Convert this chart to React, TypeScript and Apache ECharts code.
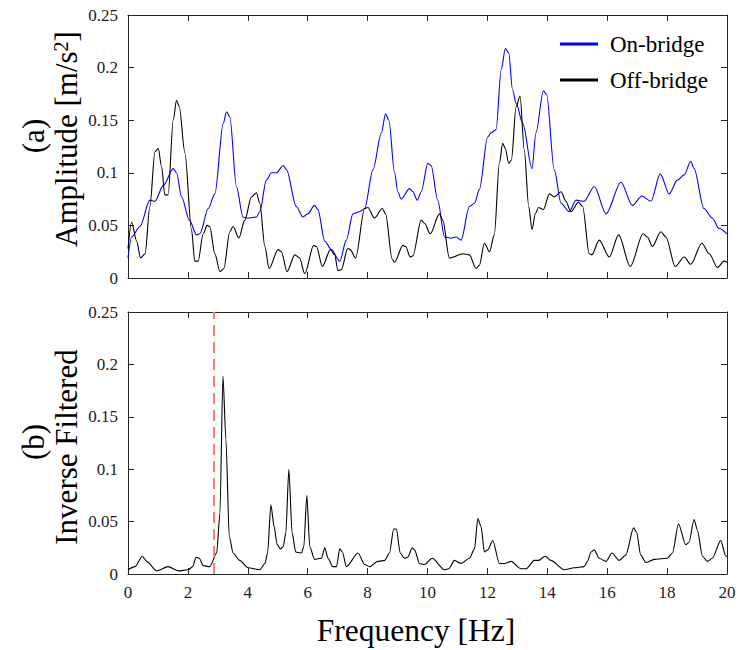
import React, { useEffect, useRef } from "react";
import * as echarts from "echarts";

const FREQ_TICKS = [0, 2, 4, 6, 8, 10, 12, 14, 16, 18, 20];
const LEGEND_NAMES = ["On-bridge", "Off-bridge"];
const CUTOFF_FREQ = 2.85;

// On-bridge spectrum [Hz, m/s^2]
const onBridge: [number, number][] = [
  [0, 0.019], [0.12, 0.039], [0.4, 0.049], [0.73, 0.074], [0.9, 0.073], [1.18, 0.088], [1.51, 0.104], [1.62, 0.1],
  [1.79, 0.077], [2.05, 0.055], [2.29, 0.041], [2.4, 0.042], [2.68, 0.066], [2.9, 0.08], [3.18, 0.147], [3.29, 0.158],
  [3.4, 0.153], [3.62, 0.087], [3.84, 0.058], [4.0, 0.057], [4.29, 0.058], [4.4, 0.063], [4.62, 0.093], [4.79, 0.1],
  [4.96, 0.1], [5.18, 0.107], [5.29, 0.103], [5.62, 0.068], [5.84, 0.058], [6.0, 0.061], [6.23, 0.069], [6.34, 0.065],
  [6.57, 0.035], [6.79, 0.027], [7.07, 0.016], [7.29, 0.036], [7.51, 0.061], [7.73, 0.063], [7.9, 0.066], [8.18, 0.103],
  [8.46, 0.138], [8.6, 0.156], [8.71, 0.15], [8.9, 0.1], [9.01, 0.082], [9.12, 0.075], [9.4, 0.085], [9.51, 0.082],
  [9.66, 0.074], [9.79, 0.082], [10.01, 0.109], [10.12, 0.107], [10.34, 0.074], [10.57, 0.039], [10.79, 0.038],
  [10.96, 0.039], [11.12, 0.036], [11.4, 0.068], [11.57, 0.071], [11.73, 0.084], [12.01, 0.134], [12.12, 0.138],
  [12.29, 0.141], [12.46, 0.198], [12.6, 0.218], [12.71, 0.214], [12.84, 0.179], [12.96, 0.166], [13.18, 0.147],
  [13.49, 0.104], [13.62, 0.138], [13.87, 0.178], [13.98, 0.174], [14.23, 0.103], [14.46, 0.071], [14.73, 0.063],
  [14.96, 0.074], [15.23, 0.073], [15.57, 0.087], [15.96, 0.061], [16.46, 0.091], [16.84, 0.069], [17.16, 0.078],
  [17.46, 0.073], [17.77, 0.099], [18.07, 0.08], [18.34, 0.093], [18.57, 0.098], [18.79, 0.111], [18.9, 0.104],
  [19.23, 0.066], [19.51, 0.057], [19.73, 0.047], [20, 0.042],
];

// Off-bridge spectrum [Hz, m/s^2]
const offBridge: [number, number][] = [
  [0, 0.028], [0.12, 0.053], [0.29, 0.035], [0.42, 0.019], [0.57, 0.023], [0.73, 0.068], [0.9, 0.12], [1.01, 0.123],
  [1.12, 0.106], [1.23, 0.079], [1.34, 0.079], [1.51, 0.15], [1.62, 0.169], [1.71, 0.163], [1.9, 0.119], [2.12, 0.046],
  [2.23, 0.016], [2.34, 0.016], [2.51, 0.042], [2.64, 0.05], [2.73, 0.049], [2.9, 0.023], [3.07, 0.006], [3.2, 0.009],
  [3.4, 0.044], [3.51, 0.049], [3.7, 0.038], [3.9, 0.055], [4.12, 0.077], [4.29, 0.081], [4.4, 0.071], [4.57, 0.03],
  [4.71, 0.009], [5.01, 0.027], [5.12, 0.025], [5.31, 0.006], [5.57, 0.022], [5.73, 0.019], [5.9, 0.004], [6.2, 0.031],
  [6.29, 0.03], [6.49, 0.011], [6.76, 0.027], [6.9, 0.022], [7.01, 0.007], [7.12, 0.008], [7.34, 0.028], [7.42, 0.027],
  [7.6, 0.019], [7.9, 0.066], [8.01, 0.067], [8.23, 0.057], [8.49, 0.066], [8.6, 0.061], [8.82, 0.018], [8.9, 0.015],
  [9.18, 0.031], [9.27, 0.03], [9.42, 0.02], [9.51, 0.021], [9.79, 0.055], [9.9, 0.052], [10.09, 0.042], [10.4, 0.061],
  [10.51, 0.055], [10.73, 0.019], [11.18, 0.023], [11.4, 0.022], [11.62, 0.009], [11.73, 0.012], [11.9, 0.033],
  [12.07, 0.025], [12.23, 0.041], [12.4, 0.109], [12.51, 0.128], [12.6, 0.123], [12.71, 0.109], [12.8, 0.112],
  [12.96, 0.163], [13.09, 0.173], [13.23, 0.122], [13.38, 0.068], [13.49, 0.046], [13.6, 0.061], [13.71, 0.067],
  [13.87, 0.065], [14.07, 0.08], [14.23, 0.077], [14.46, 0.082], [14.62, 0.073], [14.79, 0.063], [15.04, 0.072],
  [15.18, 0.068], [15.4, 0.023], [15.49, 0.022], [15.73, 0.036], [16.07, 0.02], [16.38, 0.041], [16.77, 0.011],
  [17.2, 0.042], [17.34, 0.039], [17.51, 0.03], [17.79, 0.044], [17.96, 0.039], [18.27, 0.011], [18.57, 0.02],
  [18.79, 0.013], [19.16, 0.033], [19.41, 0.023], [19.68, 0.01], [19.9, 0.016], [20, 0.015],
];

// Inverse filtered spectrum
const inverseFiltered: [number, number][] = [
  [0, 0.004], [0.23, 0.007], [0.48, 0.017], [0.62, 0.012], [0.96, 0.003], [1.34, 0.007], [1.68, 0.003], [2.01, 0.004],
  [2.16, 0.007], [2.27, 0.016], [2.38, 0.015], [2.51, 0.008], [2.73, 0.007], [2.96, 0.02], [3.07, 0.058], [3.17, 0.189],
  [3.27, 0.128], [3.38, 0.036], [3.51, 0.02], [3.73, 0.013], [4.01, 0.006], [4.4, 0.004], [4.57, 0.01], [4.66, 0.02],
  [4.77, 0.066], [4.88, 0.045], [4.98, 0.028], [5.09, 0.024], [5.18, 0.026], [5.27, 0.039], [5.37, 0.1], [5.48, 0.039],
  [5.6, 0.021], [5.79, 0.02], [5.87, 0.026], [5.97, 0.075], [6.07, 0.026], [6.23, 0.014], [6.46, 0.015], [6.57, 0.025],
  [6.68, 0.015], [6.84, 0.007], [6.96, 0.007], [7.07, 0.024], [7.16, 0.021], [7.29, 0.007], [7.68, 0.02], [7.9, 0.009],
  [8.07, 0.007], [8.34, 0.012], [8.57, 0.013], [8.73, 0.02], [8.87, 0.043], [8.96, 0.043], [9.09, 0.02], [9.23, 0.015],
  [9.34, 0.016], [9.49, 0.025], [9.57, 0.023], [9.73, 0.01], [9.9, 0.009], [10.16, 0.015], [10.57, 0.004],
  [10.71, 0.005], [10.9, 0.013], [11.12, 0.01], [11.4, 0.015], [11.57, 0.024], [11.68, 0.053], [11.79, 0.045],
  [11.9, 0.021], [12.01, 0.023], [12.18, 0.032], [12.4, 0.01], [12.57, 0.01], [12.79, 0.012], [13.12, 0.005],
  [13.29, 0.005], [13.57, 0.013], [13.71, 0.013], [13.93, 0.017], [14.12, 0.013], [14.57, 0.004], [14.9, 0.006],
  [15.23, 0.007], [15.34, 0.012], [15.46, 0.021], [15.57, 0.023], [15.73, 0.015], [15.96, 0.012], [16.16, 0.02],
  [16.4, 0.013], [16.62, 0.018], [16.88, 0.044], [16.98, 0.04], [17.12, 0.018], [17.29, 0.011], [17.57, 0.014],
  [18.01, 0.015], [18.18, 0.02], [18.38, 0.048], [18.62, 0.028], [18.73, 0.03], [18.9, 0.052], [19.01, 0.042],
  [19.18, 0.017], [19.34, 0.012], [19.51, 0.015], [19.79, 0.032], [19.96, 0.017], [20, 0.017],
];

const SERIF = "Liberation Serif";
const AXIS_COLOR = "#262626";

export default function App() {
  const ref = useRef<HTMLDivElement>(null);

  useEffect(() => {
    document.body.style.margin = "0";
    if (!ref.current) return;
    const chart = echarts.init(ref.current, null, { renderer: "svg" });

    const tickLabel = { fontFamily: SERIF, fontSize: 17, color: "#222" };

    const xAxisBase = (gridIndex: number, position: "top" | "bottom", showLabel: boolean) => ({
      type: "value" as const,
      gridIndex,
      position,
      min: FREQ_TICKS[0],
      max: FREQ_TICKS[FREQ_TICKS.length - 1],
      interval: 2,
      axisLine: { show: true, onZero: false, lineStyle: { color: AXIS_COLOR, width: 1 } },
      axisTick: { show: true, inside: true, length: 6, lineStyle: { color: AXIS_COLOR } },
      axisLabel: { show: showLabel, margin: 10, ...tickLabel },
      splitLine: { show: false },
    });

    const yAxisBase = (gridIndex: number, position: "left" | "right", showLabel: boolean) => ({
      type: "value" as const,
      gridIndex,
      position,
      min: 0,
      max: 0.25,
      interval: 0.05,
      axisLine: { show: true, onZero: false, lineStyle: { color: AXIS_COLOR, width: 1 } },
      axisTick: { show: true, inside: true, length: 6, lineStyle: { color: AXIS_COLOR } },
      axisLabel: { show: showLabel, margin: 10, ...tickLabel },
      splitLine: { show: false },
    });

    const legendBase = (name: string, top: number, color: string) => ({
      show: true,
      data: [{ name, icon: "rect", itemStyle: { color } }],
      orient: "vertical" as const,
      left: 560,
      top,
      padding: 0,
      itemWidth: 38,
      itemHeight: 3,
      selectedMode: false,
      textStyle: {
        fontFamily: SERIF,
        fontSize: 23,
        color: "#000",
        lineHeight: 24,
        padding: [0, 0, 0, 7],
      },
    });

    const titleStyle = (text: string, size: number, extra: any = {}) => ({
      text,
      fontFamily: SERIF,
      fontSize: size,
      fill: "#000",
      align: "center",
      verticalAlign: "middle",
      ...extra,
    });

    const option: any = {
      animation: false,
      backgroundColor: "#fff",
      textStyle: { fontFamily: SERIF },
      grid: [
        { left: 128, width: 599, top: 15, height: 263, containLabel: false },
        { left: 128, width: 599, top: 312, height: 262, containLabel: false },
      ],
      xAxis: [
        xAxisBase(0, "bottom", false),
        xAxisBase(0, "top", false),
        xAxisBase(1, "bottom", true),
        xAxisBase(1, "top", false),
      ],
      yAxis: [
        yAxisBase(0, "left", true),
        yAxisBase(0, "right", false),
        yAxisBase(1, "left", true),
        yAxisBase(1, "right", false),
      ],
      legend: [
        legendBase(LEGEND_NAMES[0], 32, "#0000ff"),
        legendBase(LEGEND_NAMES[1], 68, "#000000"),
      ],
      series: [
        {
          name: LEGEND_NAMES[0],
          type: "line",
          xAxisIndex: 0,
          yAxisIndex: 0,
          data: onBridge,
          showSymbol: false,
          smooth: 0.3,
          smoothMonotone: "x",
          lineStyle: { color: "#0000ff", width: 1.1 },
          itemStyle: { color: "#0000ff" },
          z: 2,
        },
        {
          name: LEGEND_NAMES[1],
          type: "line",
          xAxisIndex: 0,
          yAxisIndex: 0,
          data: offBridge,
          showSymbol: false,
          smooth: 0.3,
          smoothMonotone: "x",
          lineStyle: { color: "#000000", width: 1.1 },
          itemStyle: { color: "#000000" },
          z: 3,
        },
        {
          name: "Inverse Filtered",
          type: "line",
          xAxisIndex: 2,
          yAxisIndex: 2,
          data: inverseFiltered,
          showSymbol: false,
          smooth: 0.25,
          smoothMonotone: "x",
          lineStyle: { color: "#000000", width: 1.1 },
          itemStyle: { color: "#000000" },
          markLine: {
            silent: true,
            symbol: "none",
            label: { show: false },
            lineStyle: { color: "#ff7b7b", width: 2, type: [11, 6] },
            data: [{ xAxis: CUTOFF_FREQ }],
          },
        },
      ],
      graphic: [
        { type: "text", x: 33, y: 136, rotation: Math.PI / 2, style: titleStyle("(a)", 31) },
        {
          type: "text",
          x: 66,
          y: 139,
          rotation: Math.PI / 2,
          style: titleStyle("Amplitude [m/s{sup|2}]", 31, {
            rich: {
              sup: { fontSize: 20, fontFamily: SERIF, verticalAlign: "top", lineHeight: 31, padding: [0, 0, 10, 0] },
            },
          }),
        },
        { type: "text", x: 33, y: 442, rotation: Math.PI / 2, style: titleStyle("(b)", 31) },
        { type: "text", x: 66, y: 447, rotation: Math.PI / 2, style: titleStyle("Inverse Filtered", 31) },
        { type: "text", x: 416, y: 630, style: titleStyle("Frequency [Hz]", 31.5) },
      ],
    };

    chart.setOption(option);
    return () => chart.dispose();
  }, []);

  return <div ref={ref} style={{ width: 739, height: 650 }} />;
}
